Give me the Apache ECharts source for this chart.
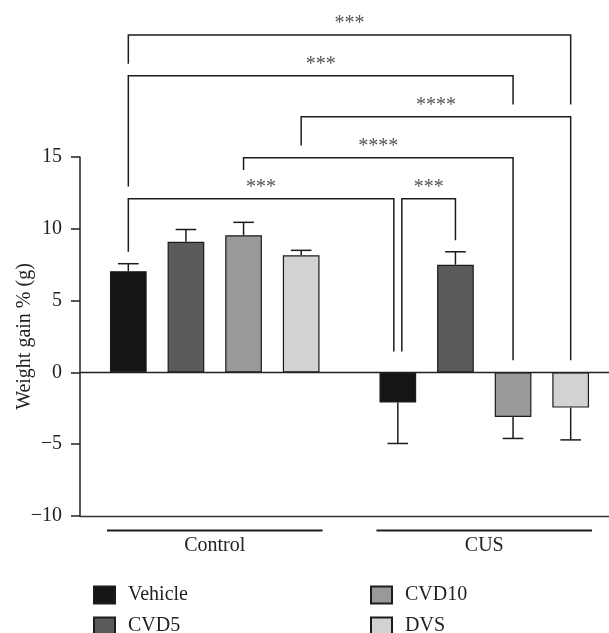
<!DOCTYPE html>
<html>
<head>
<meta charset="utf-8">
<title>Weight gain</title>
<script src="https://cdn.jsdelivr.net/npm/echarts@6/dist/echarts.min.js"></script>
<style>
  html, body { margin: 0; padding: 0; background: #fff; }
  #main { width: 609px; height: 633px; }
</style>
</head>
<body>
<div id="main"></div>
<script>
// groups on the x axis and the four treatments
var groups = ['Control', 'CUS'];
var seriesNames = ['Vehicle', 'CVD5', 'CVD10', 'DVS'];
var seriesColors = ['#151515', '#5a5a5a', '#999999', '#d1d2d1'];

// mean weight gain per treatment, [Control, CUS]
var vehicle = [7.05, -2.1];
var cvd5 = [9.1, 7.5];
var cvd10 = [9.55, -3.1];
var dvs = [8.15, -2.45];
// error (one-sided, away from zero)
var vehicleErr = [0.52, 2.85];
var cvd5Err = [0.85, 0.9];
var cvd10Err = [0.9, 1.5];
var dvsErr = [0.35, 2.25];

var yTicks = [-10, -5, 0, 5, 10, 15];

// significance brackets: [group, series] -> [group, series]
var sigPairs = [[0, 0, 1, 3], [0, 0, 1, 2], [0, 3, 1, 3], [0, 2, 1, 2], [0, 0, 1, 0], [1, 0, 1, 1]];
var sigLevels = [23.5, 20.65, 17.8, 14.95, 12.1, 12.1];
var sigEnds = [[21.5, 18.65], [12.95, 18.65], [15.8, 0.85], [14.1, 0.85], [8.4, 1.45], [1.45, 9.2]];
var sigLabels = ['***', '***', '****', '****', '***', '***'];

var values = [vehicle, cvd5, cvd10, dvs];
var errors = [vehicleErr, cvd5Err, cvd10Err, dvsErr];

var FONT = 'Liberation Serif';
var BAR_W = 36.7;
var BAR_GAP = 0.57;
var STEP = BAR_W * (1 + BAR_GAP);

function barOffset(s) {
    return (s - (seriesNames.length - 1) / 2) * STEP;
}

var myChart = echarts.init(document.getElementById('main'));

var series = [];
for (var s = 0; s < seriesNames.length; s++) {
    var bar = {
        name: seriesNames[s],
        type: 'bar',
        data: values[s],
        barWidth: BAR_W,
        barGap: (BAR_GAP * 100) + '%',
        itemStyle: { color: seriesColors[s], borderColor: '#1c1c1c', borderWidth: 1.2 },
        emphasis: { disabled: true },
        z: 2
    };
    if (s === 0) {
        bar.markLine = {
            silent: true,
            symbol: 'none',
            label: { show: false },
            lineStyle: { color: '#222', width: 1.3, type: 'solid' },
            data: [{ yAxis: 0 }],
            z: 3
        };
    }
    series.push(bar);
}

// error bars
var errData = [];
for (var s2 = 0; s2 < seriesNames.length; s2++) {
    for (var g = 0; g < groups.length; g++) {
        errData.push([g, values[s2][g], errors[s2][g], s2]);
    }
}
series.push({
    type: 'custom',
    silent: true,
    z: 4,
    data: errData,
    encode: { x: 0, y: 1 },
    renderItem: function (params, api) {
        var g = api.value(0), v = api.value(1), e = api.value(2), s = api.value(3);
        var dir = v >= 0 ? 1 : -1;
        var p0 = api.coord([g, v]);
        var p1 = api.coord([g, v + dir * e]);
        var x = p0[0] + barOffset(s);
        var cap = 10.3;
        var st = { stroke: '#1c1c1c', lineWidth: 1.5 };
        return {
            type: 'group',
            children: [
                { type: 'line', shape: { x1: x, y1: p0[1], x2: x, y2: p1[1] }, style: st },
                { type: 'line', shape: { x1: x - cap, y1: p1[1], x2: x + cap, y2: p1[1] }, style: st }
            ]
        };
    }
});

// significance brackets
function sharedShift(i, side) {
    var p = sigPairs[i];
    for (var j = 0; j < sigPairs.length; j++) {
        if (j === i || sigLevels[j] !== sigLevels[i]) continue;
        var q = sigPairs[j];
        if (side === 1 && p[2] === q[0] && p[3] === q[1]) return -4;
        if (side === 0 && p[0] === q[2] && p[1] === q[3]) return 4;
    }
    return 0;
}
series.push({
    type: 'custom',
    silent: true,
    clip: false,
    z: 5,
    data: sigPairs.map(function (p, i) { return [p[0], sigLevels[i], i]; }),
    encode: { x: 0, y: 1 },
    renderItem: function (params, api) {
        var i = api.value(2);
        var p = sigPairs[i];
        var xa = api.coord([p[0], 0])[0] + barOffset(p[1]) + sharedShift(i, 0);
        var xb = api.coord([p[2], 0])[0] + barOffset(p[3]) + sharedShift(i, 1);
        var yl = api.coord([0, sigLevels[i]])[1];
        var ya = api.coord([0, sigEnds[i][0]])[1];
        var yb = api.coord([0, sigEnds[i][1]])[1];
        return {
            type: 'group',
            children: [
                {
                    type: 'polyline',
                    shape: { points: [[xa, ya], [xa, yl], [xb, yl], [xb, yb]] },
                    style: { stroke: '#1c1c1c', lineWidth: 1.5, fill: null }
                },
                {
                    type: 'text',
                    style: {
                        text: sigLabels[i],
                        x: (xa + xb) / 2,
                        y: yl - 11,
                        align: 'center',
                        verticalAlign: 'middle',
                        font: '20px "Liberation Serif"',
                        fill: '#555'
                    }
                }
            ]
        };
    }
});

// group underlines below the x axis
series.push({
    type: 'custom',
    silent: true,
    clip: false,
    z: 5,
    data: groups.map(function (name, i) { return [i, -10]; }),
    encode: { x: 0, y: 1 },
    renderItem: function (params, api) {
        var c = api.coord([api.value(0), -10]);
        var half = api.size([1, 0])[0] * 0.4;
        var y = c[1] + 14.5;
        return {
            type: 'line',
            shape: { x1: c[0] - half, y1: y, x2: c[0] + half, y2: y },
            style: { stroke: '#1c1c1c', lineWidth: 2.2 }
        };
    }
});

// legend: 2 x 2, one component per entry
var legendText = { fontFamily: FONT, fontSize: 20, color: '#222', padding: [0, 0, 0, 8] };
var legendCols = [88, 365];
var legendRows = [580, 611];
var legends = seriesNames.map(function (name, i) {
    return {
        data: [name],
        left: legendCols[Math.floor(i / 2)],
        top: legendRows[i % 2],
        itemWidth: 21, itemHeight: 17, icon: 'rect',
        textStyle: legendText, selectedMode: false
    };
});

var option = {
    animation: false,
    backgroundColor: '#fff',
    textStyle: { fontFamily: FONT },
    grid: { left: 80, top: 157, width: 539, height: 359, containLabel: false, outerBoundsMode: 'none' },
    legend: legends,
    xAxis: {
        type: 'category',
        data: groups,
        axisLine: { onZero: false, lineStyle: { color: '#333', width: 1.3 } },
        axisTick: { alignWithLabel: true, length: 8, lineStyle: { color: '#333', width: 1.3 } },
        axisLabel: { fontFamily: FONT, fontSize: 20, color: '#222', margin: 20 },
        splitLine: { show: false }
    },
    yAxis: {
        type: 'value',
        min: yTicks[0],
        max: yTicks[yTicks.length - 1],
        interval: 5,
        name: 'Weight gain % (g)',
        nameLocation: 'middle',
        nameGap: 45,
        nameMoveOverlap: false,
        nameTextStyle: { fontFamily: FONT, fontSize: 20, color: '#222' },
        axisLine: { show: true, lineStyle: { color: '#222', width: 1.5 } },
        axisTick: { show: true, length: 9, lineStyle: { color: '#222', width: 1.5 } },
        axisLabel: {
            fontFamily: FONT, fontSize: 20, color: '#222', margin: 18,
            formatter: function (v) { return String(v).replace('-', '\u2212'); }
        },
        splitLine: { show: false }
    },
    series: series
};

myChart.setOption(option);
</script>
</body>
</html>
